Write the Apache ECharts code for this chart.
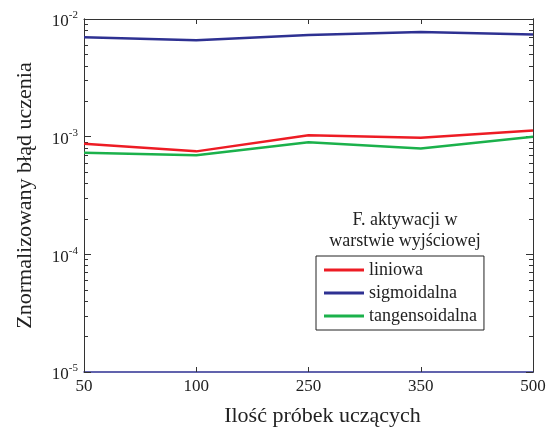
<!DOCTYPE html>
<html>
<head>
<meta charset="utf-8">
<script src="https://cdn.jsdelivr.net/npm/echarts@6/dist/echarts.min.js"></script>
<style>
  html, body { margin: 0; padding: 0; background: #fff; }
  #chart { width: 557px; height: 436px; }
</style>
</head>
<body>
<div id="chart"></div>
<script>
// ── Data ────────────────────────────────────────────────────────────────
const samples     = ['50', '100', '250', '350', '500'];
const liniowa     = [8.7e-4, 7.5e-4, 1.03e-3, 9.8e-4, 1.13e-3];
const sigmoidalna = [7.0e-3, 6.6e-3, 7.3e-3, 7.75e-3, 7.4e-3];
const tangens     = [7.3e-4, 6.95e-4, 8.95e-4, 7.95e-4, 1.0e-3];
const majorTicks  = [1e-5, 1e-4, 1e-3, 1e-2];

// ── Style ───────────────────────────────────────────────────────────────
const font   = 'Liberation Serif';
const ink    = '#222';
const frame  = '#333';
const red    = '#ed1c24';
const blue   = '#2e3192';
const green  = '#1bb14b';

const minorTicks = [];
for (let e = -5; e < -2; e++) {
  for (let m = 2; m <= 9; m++) minorTicks.push(+(m * Math.pow(10, e)).toPrecision(3));
}

const chart = echarts.init(document.getElementById('chart'), null, { renderer: 'canvas' });

const yBase = (pos, ticks, len, labels) => ({
  type: 'log', logBase: 10, min: 1e-5, max: 1e-2, position: pos,
  axisLine: { show: true, onZero: false, lineStyle: { color: frame, width: 1 } },
  axisTick: { show: true, inside: true, length: len, customValues: ticks,
              lineStyle: { color: frame, width: 1 } },
  axisLabel: labels ? {
    show: true, customValues: majorTicks, margin: 6,
    formatter: (v) => '{b|10}{s|' + Math.round(Math.log10(v)) + '}',
    rich: {
      b: { fontFamily: font, fontSize: 17, color: ink, padding: [6, 0, 0, 0] },
      s: { fontFamily: font, fontSize: 11, color: ink, padding: [0, 0, 7, 0] },
    },
  } : { show: false },
  splitLine: { show: false },
  minorTick: { show: false },
});

chart.setOption({
  animation: false,
  backgroundColor: '#fff',
  grid: { left: 84, right: 24, top: 19, bottom: 64 },
  title: {
    text: 'F. aktywacji w\nwarstwie wyjściowej',
    left: 400, top: 205, textAlign: 'center',
    textStyle: { fontFamily: font, fontSize: 18, fontWeight: 'normal', color: ink, lineHeight: 21 },
  },
  legend: {
    orient: 'vertical',
    left: 316, top: 256,
    padding: [5, 7, 5, 8],
    itemGap: 5,
    itemWidth: 40, itemHeight: 3,
    icon: 'rect',
    borderColor: '#222', borderWidth: 1,
    textStyle: { fontFamily: font, fontSize: 18, color: ink },
    data: ['liniowa', 'sigmoidalna', 'tangensoidalna'],
  },
  xAxis: [
    {
      type: 'category', data: samples, boundaryGap: false, position: 'bottom',
      axisLine: { onZero: false, lineStyle: { color: blue, width: 1.5 } },
      axisTick: { inside: true, length: 5, alignWithLabel: true, lineStyle: { color: frame } },
      axisLabel: { fontFamily: font, fontSize: 17, color: ink, margin: 6 },
      name: 'Ilość próbek uczących', nameLocation: 'middle', nameGap: 33,
      nameTextStyle: { fontFamily: font, fontSize: 22, color: ink, padding: [0, 0, 0, 28] },
    },
    {
      type: 'category', data: samples, boundaryGap: false, position: 'top',
      axisLine: { onZero: false, lineStyle: { color: frame, width: 1 } },
      axisTick: { inside: true, length: 5, lineStyle: { color: frame } },
      axisLabel: { show: false },
    },
  ],
  yAxis: [
    Object.assign(yBase('left', majorTicks, 7, true), {
      name: 'Znormalizowany błąd uczenia', nameLocation: 'middle', nameGap: 48,
      nameTextStyle: { fontFamily: font, fontSize: 22, color: ink },
    }),
    yBase('left', minorTicks, 4, false),
    yBase('right', majorTicks, 7, false),
    yBase('right', minorTicks, 4, false),
  ],
  series: [
    { name: 'liniowa', type: 'line', data: liniowa, symbol: 'none',
      lineStyle: { color: red, width: 2.5 }, itemStyle: { color: red } },
    { name: 'sigmoidalna', type: 'line', data: sigmoidalna, symbol: 'none',
      lineStyle: { color: blue, width: 2.5 }, itemStyle: { color: blue } },
    { name: 'tangensoidalna', type: 'line', data: tangens, symbol: 'none',
      lineStyle: { color: green, width: 2.5 }, itemStyle: { color: green } },
  ],
});
</script>
</body>
</html>
